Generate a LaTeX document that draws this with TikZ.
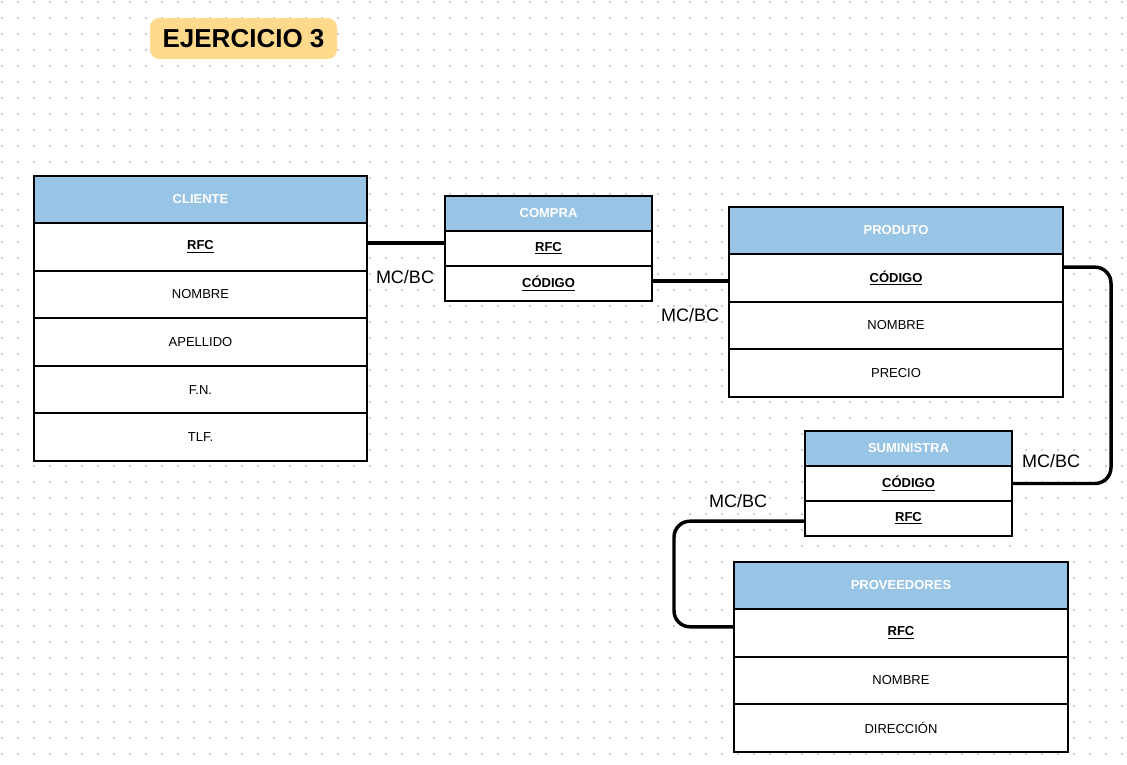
\documentclass[tikz,border=0pt]{standalone}
\usepackage{fontspec}
\setmainfont{Liberation Sans}
\definecolor{hdr}{HTML}{98C4E6}
\definecolor{ttl}{HTML}{FFD98C}
\definecolor{dotc}{HTML}{CACADA}
\newcommand\clave[1]{\underline{\textbf{#1}}}
\begin{document}
\begin{tikzpicture}[x=0.75pt,y=-0.75pt,
  cell/.style={draw=black, line width=1.5pt, inner sep=0pt, anchor=north west,
    font=\fontsize{9.75}{12}\selectfont},
  hdrcell/.style={cell, fill=hdr, text=white, font=\fontsize{9.75}{12}\selectfont\bfseries},
  tablebg/.style={fill=white},
  conn/.style={line width=2.6pt, rounded corners=12pt},
  lbl/.style={font=\fontsize{13.5}{16}\selectfont, inner sep=0pt}
]
\useasboundingbox (0,0) rectangle (1127,764);
\fill[white] (0,0) rectangle (1127,764);
% dot grid
\foreach \x in {0,...,70}
  \foreach \y in {0,...,47}
    \fill[dotc] ({1.3+16*\x},{1.3+16*\y}) rectangle ++(1.4,1.4);

% white backgrounds of the tables
\fill[tablebg] (33,175) rectangle (366,460);
\fill[tablebg] (444,195) rectangle (651,300);
\fill[tablebg] (728,206) rectangle (1062,396);
\fill[tablebg] (804,430) rectangle (1011,535);
\fill[tablebg] (733,561) rectangle (1067,751);

% title
\node[fill=ttl, rounded corners=7pt, minimum width=140.25pt, minimum height=30.75pt,
  font=\fontsize{19.5}{22}\selectfont\bfseries] (title) at (243.5,38.5) {EJERCICIO 3};

% CLIENTE
\node[hdrcell, minimum width=249.75pt, minimum height=35.25pt] (cli) at (33,175) {CLIENTE};
\foreach \t [count=\i] in {\clave{RFC},NOMBRE,APELLIDO,F.N.,TLF.}
  \node[cell, minimum width=249.75pt, minimum height=35.7pt] (cli-\i) at (33,{222+47.6*(\i-1)}) {\t};

% COMPRA
\node[hdrcell, minimum width=155.25pt, minimum height=26.25pt] (comp) at (444,195) {COMPRA};
\foreach \t [count=\i] in {\clave{RFC},\clave{CÓDIGO}}
  \node[cell, minimum width=155.25pt, minimum height=26.25pt] (comp-\i) at (444,{230+35*(\i-1)}) {\t};

% PRODUTO
\node[hdrcell, minimum width=250.5pt, minimum height=35.25pt] (prod) at (728,206) {PRODUTO};
\foreach \t [count=\i] in {\clave{CÓDIGO},NOMBRE,PRECIO}
  \node[cell, minimum width=250.5pt, minimum height=35.7pt] (prod-\i) at (728,{253+47.6*(\i-1)}) {\t};

% SUMINISTRA
\node[hdrcell, minimum width=155.25pt, minimum height=26.25pt] (sum) at (804,430) {SUMINISTRA};
\foreach \t [count=\i] in {\clave{CÓDIGO},\clave{RFC}}
  \node[cell, minimum width=155.25pt, minimum height=26.25pt] (sum-\i) at (804,{465+35*(\i-1)}) {\t};

% PROVEEDORES
\node[hdrcell, minimum width=250.5pt, minimum height=35.25pt] (prov) at (733,561) {PROVEEDORES};
\foreach \t [count=\i] in {\clave{RFC},NOMBRE,DIRECCIÓN}
  \node[cell, minimum width=250.5pt, minimum height=35.7pt] (prov-\i) at (733,{608+47.6*(\i-1)}) {\t};

% connectors
\draw[conn] ([yshift=3pt]cli-1.east) -- ([yshift=3pt]cli-1.east -| comp-1.west);
\draw[conn] ([yshift=2pt]comp-2.east) -- ([yshift=2pt]comp-2.east -| prod-1.west);
\draw[conn] ([yshift=8pt]prod-1.east) -- ++(47,0) |- (sum-1.east);
\draw[conn] ([yshift=-2pt]sum-2.west) -- ++(-130,0) |- ([yshift=4.5pt]prov-1.west);

% labels
\node[lbl] (l1) at (405,277) {MC/BC};
\node[lbl] (l2) at (690,315) {MC/BC};
\node[lbl] (l3) at (1051,461) {MC/BC};
\node[lbl] (l4) at (738,501) {MC/BC};
\end{tikzpicture}
\end{document}
